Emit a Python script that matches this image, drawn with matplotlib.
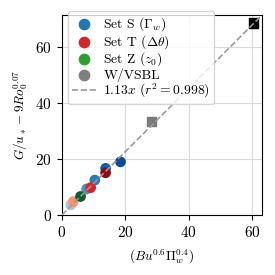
import numpy as np
import matplotlib
matplotlib.use("Agg")
from matplotlib import pyplot as plt

plt.rcParams['font.family'] = 'serif'
plt.rcParams['font.serif'] = ['cmr10', 'DejaVu Serif']
plt.rcParams['mathtext.fontset'] = 'cm'
plt.rcParams['axes.formatter.use_mathtext'] = True

# data
s_x = [2.8, 7.8, 10.4, 13.8, 18.5]
s_y = [3.6, 9.3, 12.5, 16.7, 19.0]
s_c = ['#9ecae1', '#4292c6', '#2b7bba', '#1460a8', '#0b4a94']

t_x = [3.6, 9.1, 13.8]
t_y = [4.8, 9.8, 15.1]
t_c = ['#fc9272', '#d7262b', '#8b0d16']

z_x = [5.7]
z_y = [6.8]
z_c = ['#0b5a2a']

w_x = [28.4, 60.4]
w_y = [33.3, 68.6]
w_c = ['#7a7a7a', '#000000']

slope = 1.13
r2 = 0.998

fig = plt.figure(figsize=(2.75, 2.75), dpi=100)
ax = fig.add_axes([0.225, 0.218, 0.728, 0.727])

ax.scatter(s_x, s_y, c=s_c, s=45, zorder=2)
ax.scatter(t_x, t_y, c=t_c, s=45, zorder=2)
ax.scatter(z_x, z_y, c=z_c, s=45, zorder=2)
ax.scatter(w_x, w_y, c=w_c, s=45, marker='s', zorder=2)

xx = np.array([0, 80])
ax.plot(xx, slope * xx, '--', color='0.6', lw=1.2, zorder=3)

# legend handles
ax.scatter([], [], color='tab:blue', s=55, label=r'Set S ($\Gamma_w$)')
ax.scatter([], [], color='tab:red', s=55, label=r'Set T ($\Delta\theta$)')
ax.scatter([], [], color='tab:green', s=55, label=r'Set Z ($z_0$)')
ax.scatter([], [], color='tab:gray', s=55, label='W/VSBL')
ax.plot([], [], '--', color='0.6', lw=1.2, label=r'$1.13x$ ($r^2 = 0.998$)')

ax.set_xlim(0, 63.2)
ax.set_ylim(0, 71.4)
ax.set_xticks([0, 20, 40, 60])
ax.set_yticks([0, 20, 40, 60])
ax.grid(True, color='0.85', lw=0.8, zorder=0)
ax.set_axisbelow(True)
ax.tick_params(labelsize=11)
ax.set_xlabel(r'$(Bu^{0.6}\Pi_w^{0.4})$', fontsize=9.5, labelpad=6)
ax.set_ylabel(r'$G/u_* - 9Ro_0^{0.07}$', fontsize=9.5)

handles, labels = ax.get_legend_handles_labels()
fig.legend(handles, labels, loc='upper left', bbox_to_anchor=(68 / 275, 1 - 11 / 275),
           borderaxespad=0, fontsize=9.8, handlelength=1.8, handletextpad=0.5,
           labelspacing=0.0, borderpad=0.3)

fig.savefig('out.png', dpi=100)
